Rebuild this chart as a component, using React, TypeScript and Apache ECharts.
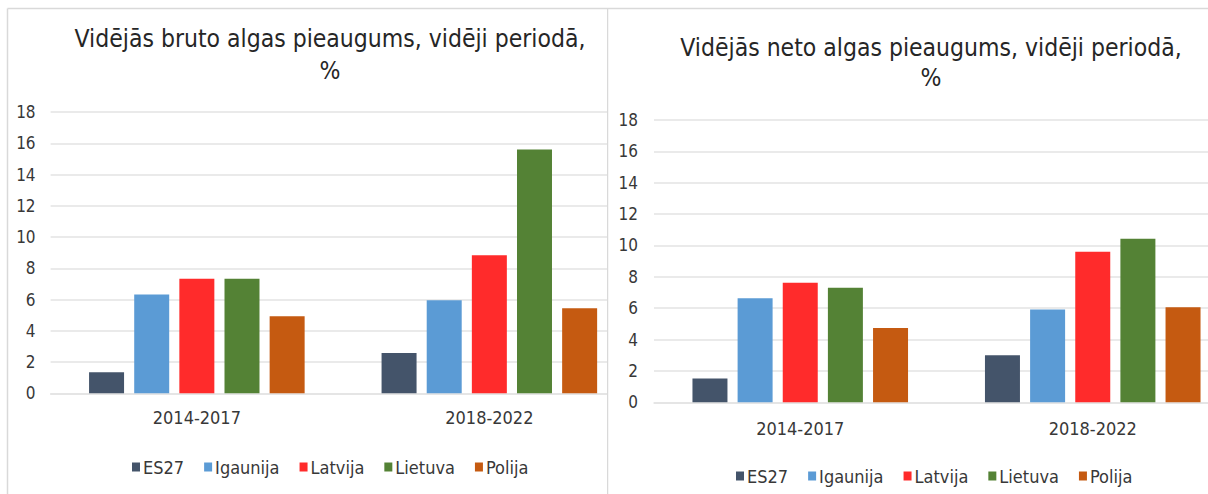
import React, { useEffect, useRef } from "react";
import * as echarts from "echarts";

const categories = ["2014-2017", "2018-2022"];
const seriesNames = ["ES27", "Igaunija", "Latvija", "Lietuva", "Polija"];
const seriesColors = ["#44546a", "#5b9bd5", "#ff2b2b", "#548235", "#c55a11"];

// Vidējās bruto algas pieaugums, %
const brutoES27 = [1.34, 2.58];
const brutoIgaunija = [6.33, 5.95];
const brutoLatvija = [7.33, 8.83];
const brutoLietuva = [7.33, 15.6];
const brutoPolija = [4.93, 5.44];

// Vidējās neto algas pieaugums, %
const netoES27 = [1.51, 3.0];
const netoIgaunija = [6.63, 5.91];
const netoLatvija = [7.63, 9.6];
const netoLietuva = [7.31, 10.43];
const netoPolija = [4.74, 6.06];

const yMin = 0;
const yMax = 18;
const yInterval = 2;

const titleBruto = ["Vidējās bruto algas pieaugums, vidēji periodā,", "%"];
const titleNeto = ["Vidējās neto algas pieaugums, vidēji periodā,", "%"];

const FONT = '"DejaVu Sans Condensed", "DejaVu Sans", sans-serif';
const BORDER = "#d9d9d9";
const GRID = "#e3e3e3";
const TEXT = "#383838";

type Cfg = {
  data: number[][];
  title: string[];
  titleX: number;
  titleY1: number;
  titleY2: number;
  gridLeft: number;
  gridTop: number;
  gridHeight: number;
  gridWidth: number;
  yMargin: number;
  xMargin: number;
  legendLeft: number;
  legendTop: number;
  borders: any[];
};

function makeOption(c: Cfg) {
  return {
    animation: false,
    backgroundColor: "#ffffff",
    textStyle: { fontFamily: FONT },
    grid: {
      left: c.gridLeft,
      top: c.gridTop,
      width: c.gridWidth,
      height: c.gridHeight,
      containLabel: false,
    },
    legend: {
      data: seriesNames,
      left: c.legendLeft,
      top: c.legendTop,
      padding: 0,
      itemWidth: 8,
      itemHeight: 9,
      itemGap: 20,
      icon: "rect",
      textStyle: { fontFamily: FONT, fontSize: 18, color: TEXT, padding: [0, 0, 0, -2] },
    },
    xAxis: {
      type: "category",
      data: categories,
      axisTick: { show: false },
      axisLine: { show: true, lineStyle: { color: GRID, width: 1.5 } },
      axisLabel: { fontFamily: FONT, fontSize: 18, color: TEXT, margin: c.xMargin },
    },
    yAxis: {
      type: "value",
      min: yMin,
      max: yMax,
      interval: yInterval,
      axisLine: { show: false },
      axisTick: { show: false },
      splitLine: { show: true, lineStyle: { color: GRID, width: 1.5 } },
      axisLabel: { fontFamily: FONT, fontSize: 17, color: TEXT, margin: c.yMargin },
    },
    series: seriesNames.map((name, i) => ({
      name,
      type: "bar",
      data: c.data[i],
      barGap: "29%",
      barCategoryGap: "26.3%",
      itemStyle: { color: seriesColors[i] },
    })),
    graphic: [
      ...c.borders,
      {
        type: "text",
        x: c.titleX,
        y: c.titleY1,
        style: {
          text: c.title[0],
          font: `24.5px ${FONT}`,
          fill: "#262626",
          align: "center",
          verticalAlign: "middle",
          textAlign: "center",
          textVerticalAlign: "middle",
        },
      },
      {
        type: "text",
        x: c.titleX,
        y: c.titleY2,
        style: {
          text: c.title[1],
          font: `24.5px ${FONT}`,
          fill: "#262626",
          align: "center",
          verticalAlign: "middle",
          textAlign: "center",
          textVerticalAlign: "middle",
        },
      },
    ],
  };
}

const borderStyle = { stroke: BORDER, lineWidth: 1.5 };

export default function App() {
  const leftRef = useRef<HTMLDivElement>(null);
  const rightRef = useRef<HTMLDivElement>(null);

  useEffect(() => {
    const l = echarts.init(leftRef.current!, undefined, { renderer: "svg" });
    const r = echarts.init(rightRef.current!, undefined, { renderer: "svg" });
    l.setOption(
      makeOption({
        data: [brutoES27, brutoIgaunija, brutoLatvija, brutoLietuva, brutoPolija],
        title: titleBruto,
        titleX: 330,
        titleY1: 38,
        titleY2: 70,
        gridLeft: 50.6,
        gridTop: 112,
        gridHeight: 281.3,
        gridWidth: 585,
        yMargin: 15,
        xMargin: 15,
        legendLeft: 132,
        legendTop: 458,
        borders: [
          { type: "line", z: 100, shape: { x1: 7.5, y1: 8.5, x2: 7.5, y2: 494 }, style: borderStyle },
          { type: "line", z: 100, shape: { x1: 7.5, y1: 8.5, x2: 608, y2: 8.5 }, style: borderStyle },
        ],
      })
    );
    r.setOption(
      makeOption({
        data: [netoES27, netoIgaunija, netoLatvija, netoLietuva, netoPolija],
        title: titleNeto,
        titleX: 324,
        titleY1: 47,
        titleY2: 77,
        gridLeft: 47,
        gridTop: 120,
        gridHeight: 282.3,
        gridWidth: 585,
        yMargin: 16,
        xMargin: 17,
        legendLeft: 129,
        legendTop: 467,
        borders: [
          { type: "line", z: 100, shape: { x1: 0.5, y1: 8.5, x2: 0.5, y2: 494 }, style: borderStyle },
          { type: "line", z: 100, shape: { x1: 0, y1: 8.5, x2: 650, y2: 8.5 }, style: borderStyle },
        ],
      })
    );
    return () => {
      l.dispose();
      r.dispose();
    };
  }, []);

  return (
    <div
      style={{
        position: "absolute",
        left: 0,
        top: 0,
        width: 1208,
        height: 494,
        background: "#ffffff",
        overflow: "hidden",
      }}
    >
      <div style={{ position: "absolute", left: 0, top: 0, width: 608, height: 494, overflow: "hidden" }}>
        <div ref={leftRef} style={{ width: 650, height: 494 }} />
      </div>
      <div style={{ position: "absolute", left: 607, top: 0, width: 601, height: 494, overflow: "hidden" }}>
        <div ref={rightRef} style={{ width: 650, height: 494 }} />
      </div>
    </div>
  );
}
